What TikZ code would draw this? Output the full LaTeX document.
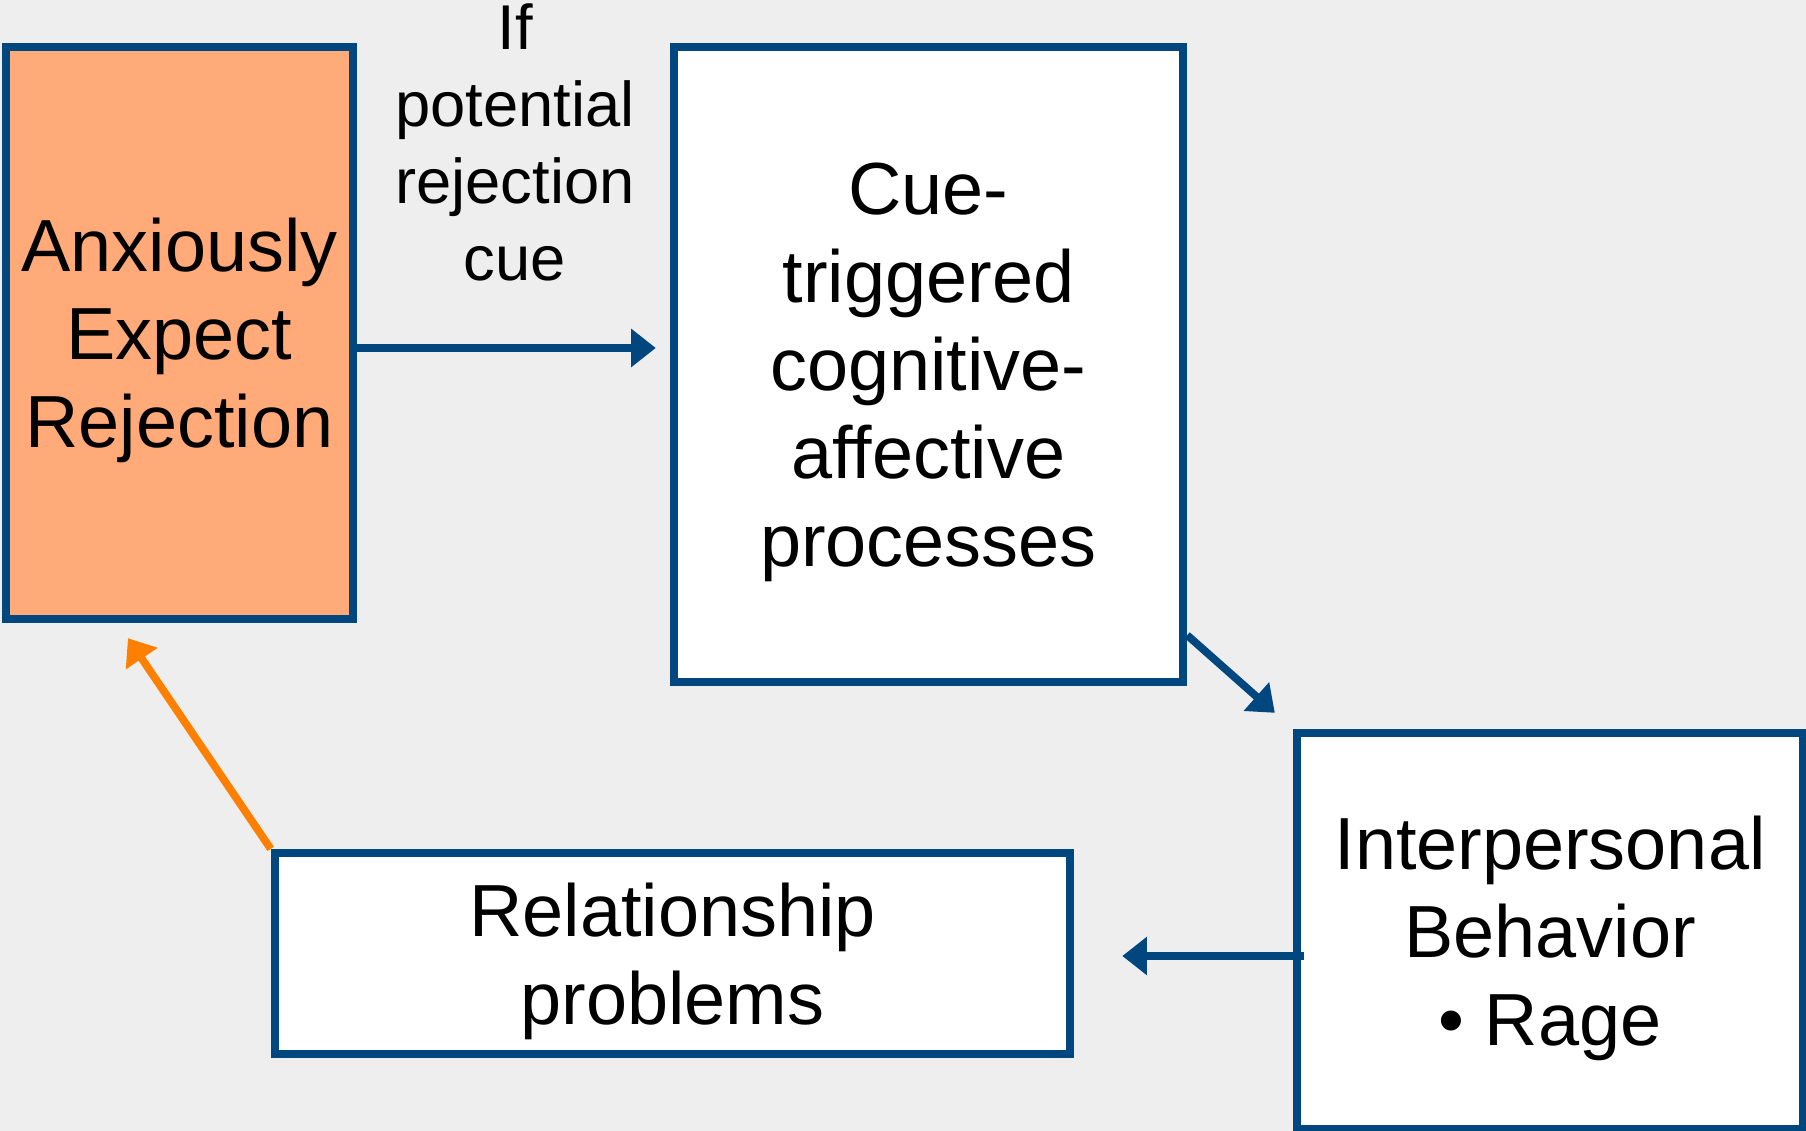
\documentclass[tikz,border=0pt]{standalone}
\usepackage{fontspec}
\setmainfont{Liberation Sans}
\usetikzlibrary{arrows.meta}
\definecolor{boxblue}{RGB}{0,70,127}
\definecolor{anxorange}{RGB}{255,170,120}
\definecolor{looporange}{RGB}{255,128,0}
\definecolor{bggray}{RGB}{238,238,238}

\begin{document}
\begin{tikzpicture}[x=0.01cm,y=-0.01cm,line width=2.2pt,>={Triangle[length=7pt,width=10.5pt]}]
		\tikzstyle{stage}=[draw=boxblue,line width=2.3pt,fill=white,align=center,inner sep=0pt,text depth=-1.2pt,font=\fontsize{21}{25}\selectfont]
		\tikzstyle{link}=[draw=boxblue,->]

		\fill[bggray] (0,0) rectangle (1806,1131);
		\useasboundingbox (0,0) rectangle (1806,1131);

		\node[stage,fill=anxorange,minimum width=3.47cm,minimum height=5.72cm](expect) at (179.5,333){Anxiously\\Expect\\Rejection};
		\node[stage,minimum width=5.09cm,minimum height=6.35cm](cue) at (928.5,364.5){Cue-\\triggered\\cognitive-\\affective\\processes};
		\node[stage,minimum width=5.06cm,minimum height=3.96cm](behav) at (1550,931){Interpersonal\\Behavior\\• Rage};
		\node[stage,minimum width=7.95cm,minimum height=2.01cm](rel) at (672.5,953.5){Relationship\\problems};
%
		\node[font=\fontsize{18}{21.9}\selectfont,align=center](cuelabel) at (515,142){If\\potential\\rejection\\cue};

		\draw[link] ([yshift=-0.15cm]expect.east) -- ([xshift=-0.14cm,yshift=0.165cm]cue.west);
		\draw[link] ([yshift=0.51cm]cue.south east) -- ([xshift=-0.18cm,yshift=0.16cm]behav.north west);
		\draw[link] ([xshift=0.11cm,yshift=-0.25cm]behav.west) -- ([xshift=0.48cm,yshift=-0.025cm]rel.east);
		\draw[draw=looporange,->] (rel.north west) -- ([xshift=-0.515cm,yshift=-0.15cm]expect.south);
	\end{tikzpicture}
\end{document}
